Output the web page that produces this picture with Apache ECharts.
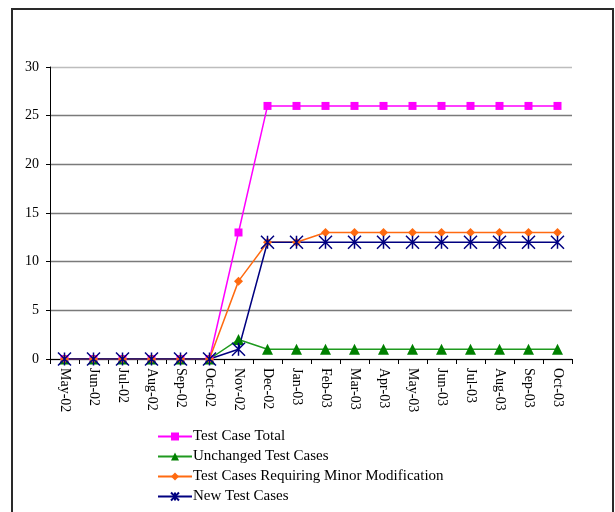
<!DOCTYPE html>
<html>
<head>
<meta charset="utf-8">
<script src="https://cdn.jsdelivr.net/npm/echarts@6/dist/echarts.min.js"></script>
<style>
  html, body { margin: 0; padding: 0; background: #fff; }
  #chart { width: 615px; height: 512px; }
</style>
</head>
<body>
<div id="chart"></div>
<script>
// Monthly test case counts, May 2002 - Oct 2003
var months = ['May-02','Jun-02','Jul-02','Aug-02','Sep-02','Oct-02','Nov-02','Dec-02','Jan-03',
              'Feb-03','Mar-03','Apr-03','May-03','Jun-03','Jul-03','Aug-03','Sep-03','Oct-03'];
var testCaseTotal = [0,0,0,0,0,0,13,26,26,26,26,26,26,26,26,26,26,26];
var unchangedCases = [0,0,0,0,0,0,2,1,1,1,1,1,1,1,1,1,1,1];
var minorModCases = [0,0,0,0,0,0,8,12,12,13,13,13,13,13,13,13,13,13];
var newCases = [0,0,0,0,0,0,1,12,12,12,12,12,12,12,12,12,12,12];
var yTicks = { min: 0, max: 30, step: 5 };

var serif = '"Liberation Serif", "Times New Roman", serif';
var asterisk = 'path://M0,0L10,10M10,0L0,10M5,0L5,10';

var chart = echarts.init(document.getElementById('chart'), null, { renderer: 'canvas' });
chart.setOption({
  animation: false,
  backgroundColor: '#ffffff',
  graphic: [{
    type: 'rect',
    shape: { x: 12, y: 9, width: 601, height: 520 },
    style: { fill: 'none', stroke: '#2a2a2a', lineWidth: 2 },
    silent: true
  }],
  grid: { left: 50, right: 43, top: 67, bottom: 153, containLabel: false },
  legend: {
    orient: 'vertical',
    left: 152,
    top: 424,
    height: 120,
    padding: 5,
    itemWidth: 34,
    itemHeight: 10,
    itemGap: 5,
    textStyle: { fontFamily: serif, fontSize: 15, color: '#000', padding: [0, 0, 0, -4] },
    data: ['Test Case Total', 'Unchanged Test Cases', 'Test Cases Requiring Minor Modification', 'New Test Cases']
  },
  xAxis: {
    type: 'category',
    data: months,
    boundaryGap: true,
    axisLine: { lineStyle: { color: '#000', width: 1 } },
    axisTick: { show: true, length: 5, lineStyle: { color: '#000' } },
    axisLabel: { rotate: -90, fontFamily: serif, fontSize: 14, color: '#000', margin: 9, interval: 0 },
    splitLine: { show: false }
  },
  yAxis: {
    type: 'value',
    min: yTicks.min,
    max: yTicks.max,
    interval: yTicks.step,
    axisLine: { show: true, lineStyle: { color: '#000', width: 1 } },
    axisTick: { show: true, length: 4, lineStyle: { color: '#000' } },
    axisLabel: { fontFamily: serif, fontSize: 14, color: '#000', margin: 11 },
    splitLine: { show: true, lineStyle: { color: ['#7a7a7a','#7a7a7a','#7a7a7a','#7a7a7a','#7a7a7a','#7a7a7a','#bdbdbd'], width: 1.4 } }
  },
  series: [
    {
      name: 'Test Case Total',
      type: 'line',
      data: testCaseTotal,
      symbol: 'rect',
      symbolSize: 8,
      lineStyle: { color: '#ff00ff', width: 1.5 },
      itemStyle: { color: '#ff00ff' }
    },
    {
      name: 'Unchanged Test Cases',
      type: 'line',
      data: unchangedCases,
      symbol: 'triangle',
      symbolSize: 11,
      lineStyle: { color: '#1f9a1f', width: 1.5 },
      itemStyle: { color: '#008000' }
    },
    {
      name: 'Test Cases Requiring Minor Modification',
      type: 'line',
      data: minorModCases,
      symbol: 'diamond',
      symbolSize: 9,
      lineStyle: { color: '#ff6a10', width: 1.5 },
      itemStyle: { color: '#ff6a10' }
    },
    {
      name: 'New Test Cases',
      type: 'line',
      data: newCases,
      symbol: asterisk,
      symbolSize: 13,
      symbolKeepAspect: true,
      lineStyle: { color: '#000080', width: 1.5 },
      itemStyle: { color: 'transparent', borderColor: '#000080', borderWidth: 1.5 }
    }
  ]
});
</script>
</body>
</html>
